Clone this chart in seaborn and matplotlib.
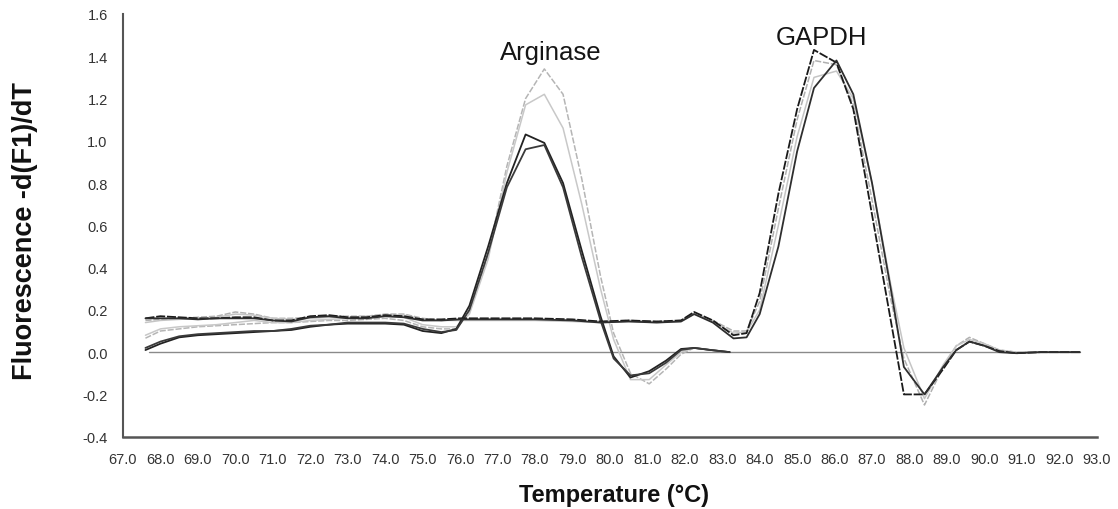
import matplotlib
matplotlib.use("Agg")
import matplotlib.pyplot as plt
import seaborn as sns

# ---------------- data ----------------
x_ticks = [67.0, 68.0, 69.0, 70.0, 71.0, 72.0, 73.0, 74.0, 75.0, 76.0, 77.0, 78.0, 79.0,
           80.0, 81.0, 82.0, 83.0, 84.0, 85.0, 86.0, 87.0, 88.0, 89.0, 90.0, 91.0, 92.0, 93.0]
y_ticks = [-0.4, -0.2, 0.0, 0.2, 0.4, 0.6, 0.8, 1.0, 1.2, 1.4, 1.6]

arg_temp = [67.6, 68.0, 68.5, 69.0, 69.5, 70.0, 70.5, 71.0, 71.5, 72.0, 72.5, 73.0, 73.5, 74.0,
            74.5, 75.0, 75.5, 75.9, 76.25, 76.75, 77.25, 77.75, 78.25, 78.75, 79.25, 79.75,
            80.1, 80.55, 81.05, 81.5, 81.9, 82.25, 82.7, 83.2]
arg_black_1 = [0.01, 0.04, 0.07, 0.08, 0.085, 0.09, 0.095, 0.10, 0.105, 0.12,
               0.13, 0.135, 0.135, 0.135, 0.13, 0.10, 0.09, 0.11, 0.22, 0.50,
               0.80, 1.03, 0.99, 0.80, 0.48, 0.17, -0.02, -0.12, -0.09, -0.04,
               0.015, 0.02, 0.01, 0.0]
arg_black_2 = [0.02, 0.05, 0.075, 0.085, 0.09, 0.095, 0.10, 0.10, 0.11, 0.125,
               0.13, 0.14, 0.14, 0.14, 0.135, 0.11, 0.095, 0.105, 0.20, 0.47,
               0.78, 0.96, 0.98, 0.78, 0.45, 0.15, -0.03, -0.11, -0.10, -0.05,
               0.01, 0.02, 0.01, 0.0]
arg_gray_1 = [0.066, 0.10, 0.11, 0.12, 0.125, 0.13, 0.135, 0.14, 0.14, 0.145,
              0.15, 0.15, 0.155, 0.16, 0.15, 0.12, 0.11, 0.11, 0.19, 0.46,
              0.88, 1.20, 1.34, 1.22, 0.82, 0.36, 0.09, -0.10, -0.15, -0.08,
              -0.01, 0.02, 0.01, 0.0]
arg_gray_2 = [0.08, 0.11, 0.12, 0.125, 0.13, 0.14, 0.15, 0.14, 0.14, 0.15,
              0.155, 0.16, 0.165, 0.17, 0.165, 0.13, 0.12, 0.12, 0.18, 0.44,
              0.85, 1.17, 1.22, 1.06, 0.70, 0.30, 0.06, -0.13, -0.13, -0.06,
              0.0, 0.02, 0.01, 0.0]

gap_temp = [67.6, 68.0, 68.5, 69.0, 69.5, 70.0, 70.5, 71.0, 71.5, 72.0,
            72.5, 73.0, 73.5, 74.0, 74.5, 75.0, 75.5, 76.0, 77.0, 78.0,
            79.0, 79.75, 80.5, 81.25, 81.9, 82.25, 82.75, 83.3, 83.65, 84.0,
            84.5, 85.0, 85.45, 86.05, 86.5, 87.0, 87.5, 87.85, 88.4, 88.9,
            89.25, 89.6, 90.0, 90.4, 90.85, 91.5, 92.0, 92.55]
gap_black_1 = [0.16, 0.17, 0.165, 0.16, 0.16, 0.165, 0.165, 0.15, 0.15, 0.17,
               0.175, 0.165, 0.165, 0.175, 0.17, 0.155, 0.155, 0.16, 0.16, 0.16,
               0.155, 0.145, 0.15, 0.145, 0.15, 0.19, 0.15, 0.08, 0.09, 0.28,
               0.75, 1.15, 1.43, 1.37, 1.15, 0.65, 0.15, -0.20, -0.20, -0.08,
               0.01, 0.05, 0.03, 0.005, -0.005, 0.0, 0.0, 0.0]
gap_black_2 = [0.16, 0.16, 0.16, 0.155, 0.16, 0.16, 0.16, 0.15, 0.145, 0.165,
               0.17, 0.16, 0.16, 0.17, 0.165, 0.15, 0.15, 0.155, 0.155, 0.155,
               0.15, 0.14, 0.145, 0.14, 0.145, 0.18, 0.14, 0.065, 0.07, 0.18,
               0.50, 0.95, 1.25, 1.38, 1.22, 0.80, 0.30, -0.07, -0.20, -0.07,
               0.01, 0.05, 0.03, 0.0, -0.005, 0.0, 0.0, 0.0]
gap_gray_1 = [0.15, 0.155, 0.16, 0.165, 0.17, 0.19, 0.18, 0.16, 0.16, 0.165,
              0.17, 0.17, 0.17, 0.18, 0.18, 0.16, 0.15, 0.155, 0.155, 0.155,
              0.15, 0.145, 0.15, 0.145, 0.15, 0.185, 0.15, 0.10, 0.10, 0.24,
              0.68, 1.10, 1.38, 1.36, 1.17, 0.72, 0.25, -0.03, -0.25, -0.07,
              0.03, 0.07, 0.04, 0.01, 0.0, 0.0, 0.0, 0.0]
gap_gray_2 = [0.14, 0.15, 0.155, 0.16, 0.165, 0.18, 0.175, 0.16, 0.155, 0.16,
              0.165, 0.165, 0.17, 0.175, 0.175, 0.155, 0.15, 0.15, 0.15, 0.15,
              0.145, 0.14, 0.145, 0.14, 0.145, 0.18, 0.145, 0.09, 0.095, 0.20,
              0.60, 1.02, 1.30, 1.33, 1.20, 0.80, 0.32, 0.02, -0.22, -0.06,
              0.03, 0.06, 0.04, 0.01, 0.0, 0.0, 0.0, 0.0]

blank_temp = [67.7, 92.55]
blank_vals = [0.0, 0.0]

peak_labels = ["Arginase", "GAPDH"]
peak_label_x = [78.42, 85.66]
peak_label_y = [1.385, 1.46]

# ---------------- style ----------------
sns.set_theme(style="white")
plt.rcParams["font.family"] = ["Liberation Sans", "DejaVu Sans"]

fig = plt.figure(figsize=(11.18, 5.10), dpi=100)
ax = fig.add_axes([0.110, 0.1418, 0.871, 0.8288])

sns.lineplot(x=blank_temp, y=blank_vals, ax=ax, color="#8a8a8a", lw=1.0, zorder=2)

gray_styles = dict(lw=1.1, zorder=3)
sns.lineplot(x=arg_temp, y=arg_gray_1, ax=ax, color="#b5b5b5", ls=(0, (4, 1.2)), sort=False, **gray_styles)
sns.lineplot(x=arg_temp, y=arg_gray_2, ax=ax, color="#c8c8c8", sort=False, **gray_styles)
sns.lineplot(x=gap_temp, y=gap_gray_1, ax=ax, color="#b0b0b0", ls=(0, (4, 1.2)), sort=False, **gray_styles)
sns.lineplot(x=gap_temp, y=gap_gray_2, ax=ax, color="#c5c5c5", sort=False, **gray_styles)

black_styles = dict(lw=1.3, zorder=4)
sns.lineplot(x=arg_temp, y=arg_black_1, ax=ax, color="#222222", sort=False, **black_styles)
sns.lineplot(x=arg_temp, y=arg_black_2, ax=ax, color="#3a3a3a", sort=False, **black_styles)
sns.lineplot(x=gap_temp, y=gap_black_1, ax=ax, color="#1a1a1a", ls=(0, (5, 1)), sort=False, **black_styles)
sns.lineplot(x=gap_temp, y=gap_black_2, ax=ax, color="#2e2e2e", sort=False, **black_styles)

for lab, lx, ly in zip(peak_labels, peak_label_x, peak_label_y):
    ax.text(lx, ly, lab, ha="center", va="baseline", fontsize=18.5, color="#151515")

ax.set_xlim(67.0, 93.0)
ax.set_ylim(-0.4, 1.6)
ax.set_xticks(x_ticks)
ax.set_xticklabels([f"{t:.1f}" for t in x_ticks])
ax.set_yticks(y_ticks)
ax.set_yticklabels([f"{t:.1f}" for t in y_ticks])

for s in ["top", "right"]:
    ax.spines[s].set_visible(False)
for s in ["left", "bottom"]:
    ax.spines[s].set_color("#555555")
ax.spines["left"].set_linewidth(1.5)
ax.spines["bottom"].set_linewidth(1.8)

ax.tick_params(axis="both", which="major", direction="out", length=5, width=1.2,
               color="#555555", labelsize=10.5, labelcolor="#333333")
ax.tick_params(axis="x", pad=6)
ax.tick_params(axis="y", pad=6)

ax.set_xlabel("Temperature (\u00b0C)", fontsize=17, fontweight="bold", color="#111111")
ax.set_ylabel("Fluorescence -d(F1)/dT", fontsize=19.5, fontweight="bold", color="#111111")
ax.xaxis.label.set_va("center")
ax.yaxis.label.set_va("center")
ax.xaxis.set_label_coords(0.504, -0.136)
ax.yaxis.set_label_coords(-0.101, 0.489)

fig.savefig("out.png", dpi=100, facecolor="white")
